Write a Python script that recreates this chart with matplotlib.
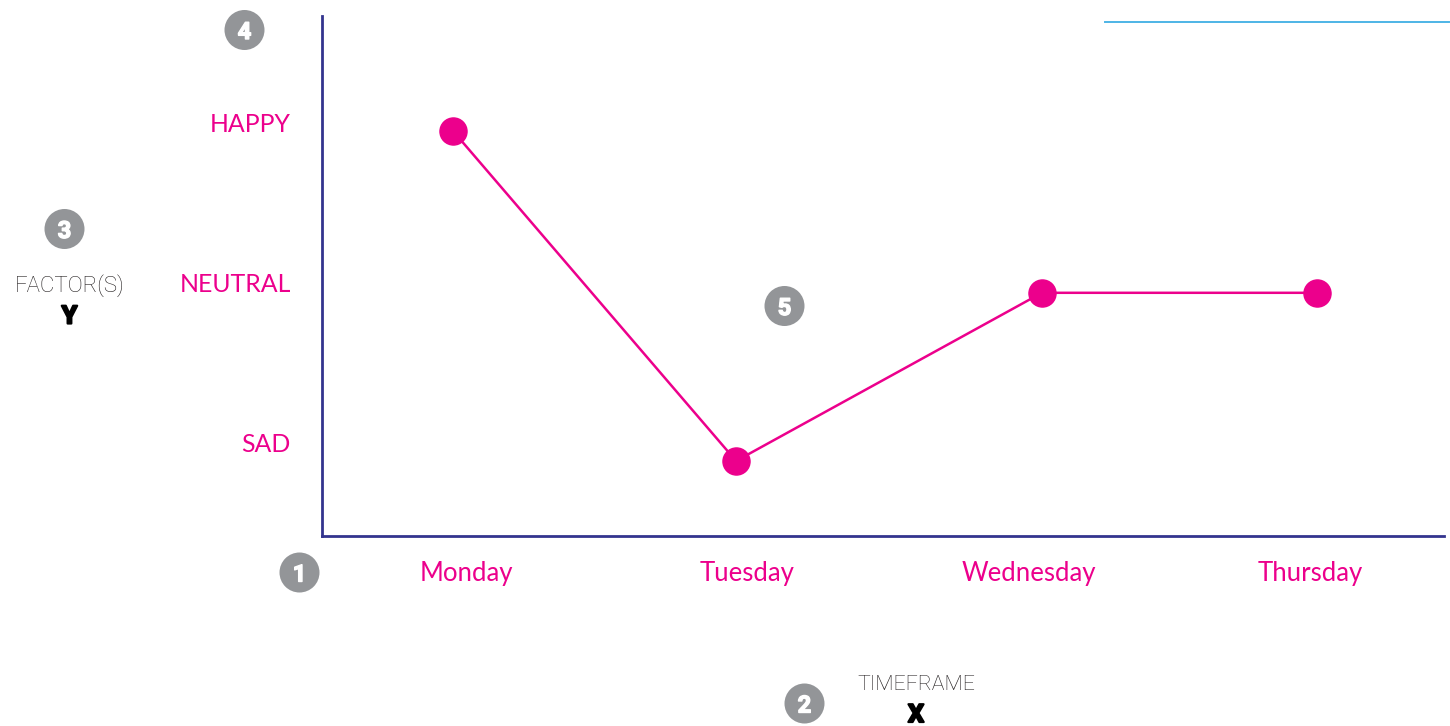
import matplotlib
matplotlib.use("Agg")
import matplotlib.pyplot as plt
import matplotlib.patheffects as pe
from matplotlib.lines import Line2D
from matplotlib.patches import Circle
from matplotlib.transforms import ScaledTranslation

days = ["Monday", "Tuesday", "Wednesday", "Thursday"]
moods = ["SAD", "NEUTRAL", "HAPPY"]
point_x = [-0.046, 0.96, 2.047, 3.024]
point_y = [1.956, -0.106, 0.945, 0.945]
badges = ["1", "2", "3", "4", "5"]
badge_px = [(299.5, 572.5), (804.5, 703.5), (64.5, 229), (244.5, 30), (784.5, 306)]

W, H = 1450, 726
PINK = "#EC008C"
NAVY = "#33348E"
GREY = "#939598"
plt.rcParams["font.family"] = ["Lato", "DejaVu Sans"]
HEAVY = ["Roboto", "DejaVu Sans"]

fig = plt.figure(figsize=(W / 100, H / 100), dpi=100)
L, R, T, B = 322, 1444, 15.5, 536
ax = fig.add_axes([L / W, 1 - B / H, (R - L) / W, (B - T) / H])
ax.set_xlim((L - 466) / 281.33, (R - 466) / 281.33)
ax.set_ylim((444 - B) / 160, (444 - T) / 160)
for s in ("top", "right"):
    ax.spines[s].set_visible(False)
for s in ("left", "bottom"):
    ax.spines[s].set_color(NAVY)
    ax.spines[s].set_linewidth(2.0)
ax.set_xticks(range(len(days)), days)
ax.set_yticks(range(len(moods)), moods)
ax.tick_params(axis="both", length=0, labelcolor=PINK)
ax.tick_params(axis="x", pad=17.8, labelsize=18.5)
ax.tick_params(axis="y", pad=22.5, labelsize=17.9)
shift = ScaledTranslation(0, 1.2 / 100, fig.dpi_scale_trans)
for lab in ax.get_yticklabels():
    lab.set_transform(lab.get_transform() + shift)
ax.plot(point_x, point_y, color=PINK, lw=1.8, marker="o", ms=19.5,
        mec=PINK, mfc=PINK, clip_on=False)

ov = fig.add_axes([0, 0, 1, 1], facecolor="none")
ov.set_xlim(0, W)
ov.set_ylim(H, 0)
ov.axis("off")
ov.add_line(Line2D([1105.5, 1449], [21.5, 21.5], color="#4DB4E6", lw=1.4))
stroke = [pe.withStroke(linewidth=1.0, foreground="white")]
for b, (cx, cy) in zip(badges, badge_px):
    ov.add_patch(Circle((cx, cy), 20, fc=GREY, ec="none"))
    ov.text(cx, cy, b, color="white", fontsize=17, family=HEAVY, fontweight="bold",
            ha="center", va="center_baseline", path_effects=stroke)
heavy = [pe.withStroke(linewidth=1.6, foreground="black")]
ov.text(70, 285.5, "FACTOR(S)", color="#231F20", fontsize=16, family=HEAVY,
        fontweight="light", ha="center", va="center")
ov.text(69.5, 316.5, "Y", color="black", fontsize=18, family=HEAVY, fontweight="bold",
        ha="center", va="center", path_effects=heavy)
ov.text(916.5, 684.5, "TIMEFRAME", color="#231F20", fontsize=15.3, family=HEAVY,
        fontweight="light", ha="center", va="center")
ov.text(916, 715, "X", color="black", fontsize=18, family=HEAVY, fontweight="bold",
        ha="center", va="center", path_effects=heavy)
fig.savefig("out.png", dpi=100)
